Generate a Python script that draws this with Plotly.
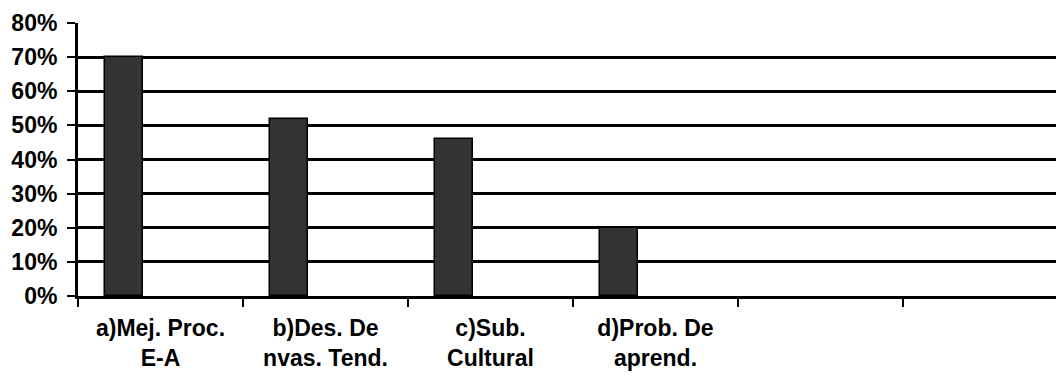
import plotly.graph_objects as go

# Categories (the last two are empty slots on the axis)
categories = ["a)Mej. Proc.<br>E-A", "b)Des. De<br>nvas. Tend.", "c)Sub.<br>Cultural",
              "d)Prob. De<br>aprend.", " ", "  "]
values = [0.70, 0.52, 0.46, 0.20, None, None]
y_ticks = [0, 0.1, 0.2, 0.3, 0.4, 0.5, 0.6, 0.7, 0.8]

W, H = 1056, 377
left, top, bottom = 78, 23, 81
cat_px = 165
n_visible = (W - left) / cat_px

fig = go.Figure(
    go.Bar(
        x=categories,
        y=values,
        width=0.228,
        offset=-0.337,
        marker=dict(color="#333333", line=dict(color="#000000", width=1.5)),
        showlegend=False,
        hoverinfo="skip",
    )
)

font = dict(family="Liberation Sans, Arial, sans-serif", color="#000000")

fig.update_layout(
    width=W,
    height=H,
    margin=dict(l=left, r=0, t=top, b=bottom, pad=0),
    paper_bgcolor="#ffffff",
    plot_bgcolor="#ffffff",
    bargap=0,
    font=font,
)

fig.update_xaxes(
    type="category",
    categoryorder="array",
    categoryarray=categories,
    range=[-0.5, -0.5 + n_visible],
    tickson="boundaries",
    ticks="outside",
    ticklen=8,
    tickwidth=2,
    tickcolor="#000000",
    showline=True,
    linecolor="#000000",
    linewidth=3,
    showgrid=False,
    tickfont=dict(size=23, family="Liberation Sans, Arial, sans-serif", color="#000000", weight="bold"),
    ticklabelstandoff=9,
)

fig.update_yaxes(
    range=[0, 0.8],
    tickvals=y_ticks,
    tickformat=".0%",
    ticks="outside",
    ticklen=8,
    tickwidth=2,
    tickcolor="#000000",
    showline=True,
    linecolor="#000000",
    linewidth=3,
    showgrid=True,
    gridcolor="#000000",
    gridwidth=2.5,
    zeroline=False,
    tickfont=dict(size=23, family="Liberation Sans, Arial, sans-serif", color="#000000", weight="bold"),
    ticklabelstandoff=5,
)

fig.write_html("out.html")
